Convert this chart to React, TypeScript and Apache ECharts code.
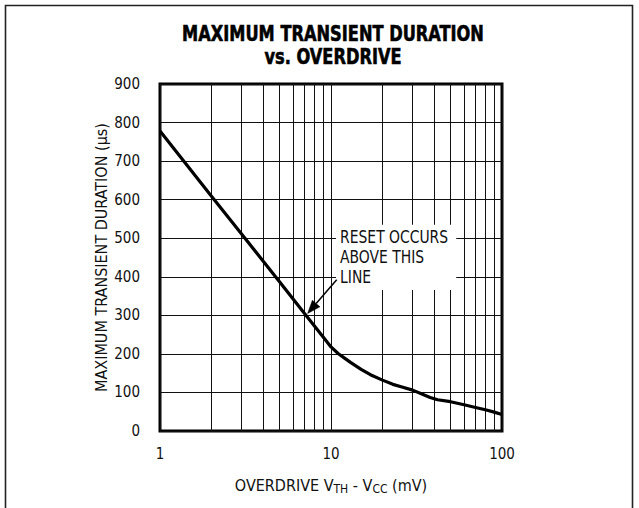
import React, { useEffect, useRef } from "react";
import * as echarts from "echarts";

// ---- data ----
const curveX = [1, 2, 3, 5, 7, 9, 10, 11, 12, 13, 15, 17, 20, 23, 26, 30, 34, 38, 42, 50, 60, 70, 80, 90, 100];
const curveY = [778, 609, 511, 387, 305, 244, 218, 201, 189, 178, 160, 146, 132, 121, 114, 106, 96, 87, 81, 76, 68, 61, 55, 49, 43];
const minorX = [2, 3, 4, 5, 6, 7, 8, 9, 20, 30, 40, 50, 60, 70, 80, 90];
const xMin = 1;
const xMax = 100;
const yMin = 0;
const yMax = 900;
const yStep = 100;
const titleLines = ["MAXIMUM TRANSIENT DURATION", "vs. OVERDRIVE"];
const yName = "MAXIMUM TRANSIENT DURATION (µs)";
const noteLines = ["RESET OCCURS", "ABOVE THIS", "LINE"];
const noteX = 11.3;
const noteY = [505, 452, 400];
const noteBox = [[10.7, 535], [54, 366]];
const arrowFrom = [10.8, 392];
const arrowTo = [7.3, 305];

const FONT = '"DejaVu Sans Condensed", "DejaVu Sans", sans-serif';

export default function App() {
  const ref = useRef<HTMLDivElement>(null);
  useEffect(() => {
    if (!ref.current) return;
    const chart = echarts.init(ref.current, undefined, { renderer: "svg" });
    const GRID = { left: 160, top: 84, width: 342, height: 347 };
    chart.setOption({
      animation: false,
      backgroundColor: "#fff",
      grid: { ...GRID, show: true, borderColor: "#000", borderWidth: 3, backgroundColor: "transparent" },
      xAxis: {
        type: "log",
        logBase: 10,
        min: xMin,
        max: xMax,
        axisLine: { show: false },
        axisTick: { show: false },
        splitLine: { show: true, lineStyle: { color: "#111", width: 1 } },
        minorTick: { show: false },
        axisLabel: { fontFamily: FONT, fontSize: 15, color: "#111", margin: 15 },
        name: "{a|OVERDRIVE V}{s|TH}{a| - V}{s|CC}{a| (mV)}",
        nameLocation: "middle",
        nameGap: 46,
        nameMoveOverlap: false,
        nameTextStyle: {
          rich: {
            a: { fontFamily: FONT, fontSize: 16, color: "#111", verticalAlign: "top", padding: [0, 0, 0, 0] },
            s: { fontFamily: FONT, fontSize: 12, color: "#111", verticalAlign: "top", padding: [6, 0, 0, 0] },
          },
        },
      },
      yAxis: {
        type: "value",
        min: yMin,
        max: yMax,
        interval: yStep,
        axisLine: { show: false },
        axisTick: { show: false },
        splitLine: { show: true, lineStyle: { color: "#111", width: 1 } },
        axisLabel: { fontFamily: FONT, fontSize: 15, color: "#111", margin: 20 },
        name: yName,
        nameLocation: "middle",
        nameRotate: 90,
        nameGap: 51,
        nameMoveOverlap: false,
        nameTextStyle: { fontFamily: FONT, fontSize: 16, color: "#111" },
      },
      series: [
        {
          type: "line",
          data: curveX.map((x, i) => [x, curveY[i]]),
          showSymbol: false,
          symbol: "none",
          smooth: false,
          lineStyle: { color: "#000", width: 3.2, join: "round" },
          z: 5,
          silent: true,
          markLine: {
            silent: true,
            symbol: "none",
            label: { show: false },
            lineStyle: { color: "#111", width: 1, type: "solid" },
            emphasis: { disabled: true },
            data: minorX.map((v) => ({ xAxis: v })),
          },
        },
      ],
    });

    const px = (p: number[]) => chart.convertToPixel({ gridIndex: 0 }, p) as number[];
    const b0 = px(noteBox[0]);
    const b1 = px(noteBox[1]);
    const a0 = px(arrowFrom);
    const a1 = px(arrowTo);
    const dx = a1[0] - a0[0];
    const dy = a1[1] - a0[1];
    const len = Math.sqrt(dx * dx + dy * dy);
    const ux = dx / len;
    const uy = dy / len;
    const headL = 13;
    const headW = 5;
    const base = [a1[0] - ux * headL, a1[1] - uy * headL];
    const head = [
      [a1[0], a1[1]],
      [base[0] - uy * headW, base[1] + ux * headW],
      [base[0] + uy * headW, base[1] - ux * headW],
    ];
    const plotCenter = GRID.left + GRID.width / 2;

    chart.setOption({
      graphic: [
        {
          type: "polyline",
          z: 1,
          silent: true,
          shape: { points: [[5.5, 508], [5.5, 5.5], [632.5, 5.5], [632.5, 508]] },
          style: { stroke: "#222", lineWidth: 1.6, fill: "none" },
        },
        ...titleLines.map((t, i) => ({
          type: "text",
          z: 20,
          silent: true,
          x: plotCenter + 2,
          y: 33 + i * 23.5,
          scaleX: 0.82,
          style: {
            text: t,
            fontFamily: FONT,
            fontSize: 22,
            fontWeight: "bold",
            fill: "#000",
            stroke: "#000",
            lineWidth: 0.6,
            textAlign: "center",
            textVerticalAlign: "middle",
            align: "center",
            verticalAlign: "middle",
          },
        })),
        {
          type: "rect",
          z: 10,
          silent: true,
          shape: { x: b0[0], y: b0[1], width: b1[0] - b0[0], height: b1[1] - b0[1] },
          style: { fill: "#fff", stroke: "none" },
        },
        ...noteLines.map((t, i) => {
          const p = px([noteX, noteY[i]]);
          return {
            type: "text",
            z: 20,
            silent: true,
            x: p[0],
            y: p[1],
            scaleX: 0.86,
            style: {
              text: t,
              fontFamily: FONT,
              fontSize: 18,
              fill: "#111",
              textAlign: "left",
              textVerticalAlign: "middle",
              align: "left",
              verticalAlign: "middle",
            },
          };
        }),
        {
          type: "line",
          z: 20,
          silent: true,
          shape: { x1: a0[0], y1: a0[1], x2: base[0], y2: base[1] },
          style: { stroke: "#000", lineWidth: 1.5 },
        },
        {
          type: "polygon",
          z: 20,
          silent: true,
          shape: { points: head },
          style: { fill: "#000", stroke: "#000", lineWidth: 0.5 },
        },
      ],
    });

    return () => chart.dispose();
  }, []);
  return (
    <div
      ref={ref}
      style={{ position: "fixed", left: 0, top: 0, width: 639, height: 508, background: "#fff" }}
    />
  );
}
